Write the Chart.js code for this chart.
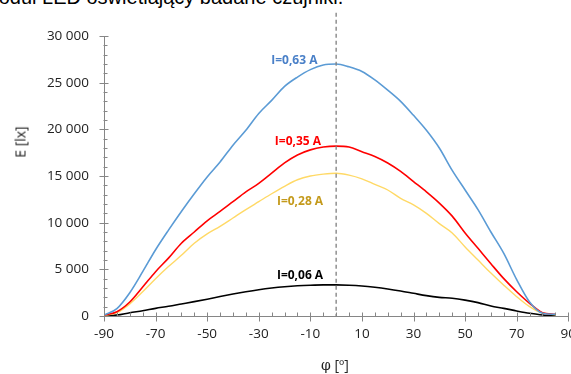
<!DOCTYPE html>
<html>
<head>
<meta charset="utf-8">
<script src="https://cdn.jsdelivr.net/npm/chart.js@4.4.0/dist/chart.umd.min.js"></script>
<style>
  html, body { margin: 0; padding: 0; background: #fff; overflow: hidden; width: 571px; height: 374px; }
  #wrap { position: absolute; left: 0; top: 0; width: 586px; height: 374px; }
  .top-text { position: absolute; left: -18px; top: -13px; font: 20px/20px "Liberation Sans", Arial, sans-serif; color: #000; white-space: nowrap; }
  .ytitle { position: absolute; left: 20px; top: 142px; transform: translate(-50%, -50%) rotate(-90deg); font: 14px "Open Sans", sans-serif; color: #222; white-space: nowrap; }
  .xtitle { position: absolute; left: 335px; top: 355px; transform: translateX(-50%); font: 14px "Open Sans", sans-serif; color: #222; white-space: nowrap; }
  .xtitle .phi { font-family: "DejaVu Serif", "Liberation Serif", serif; }
</style>
</head>
<body>
<div class="top-text">Moduł LED oświetlający badane czujniki.</div>
<div id="wrap"><canvas id="wykres" width="586" height="374"></canvas></div>
<div class="ytitle">E [lx]</div>
<div class="xtitle"><span class="phi">φ</span> [º]</div>
<script>
// kąt [stopnie]
const katy = [-90, -85, -80, -75, -70, -65, -60, -55, -50, -45, -40, -35, -30, -25, -20, -15, -10, -5,
  0, 5, 10, 15, 20, 25, 30, 35, 40, 45, 50, 55, 60, 65, 70, 75, 80, 85];

// natężenie oświetlenia E [lx]
const e063 = [100, 800, 2500, 4750, 7100, 9200, 11200, 13100, 14900, 16500, 18300, 19900, 21700, 23100, 24600, 25600, 26400, 26900,
  27000, 26700, 26200, 25300, 24200, 23000, 21500, 19900, 18000, 15600, 13500, 11400, 9000, 6700, 3900, 1500, 300, 180];
const e035 = [80, 460, 1500, 3100, 4750, 6200, 7800, 9000, 10200, 11200, 12250, 13300, 14200, 15300, 16400, 17250, 17800, 18100,
  18200, 18100, 17600, 17100, 16400, 15500, 14400, 13300, 12100, 10700, 8900, 7250, 5600, 4000, 2600, 1360, 360, 180];
const e028 = [60, 350, 1300, 2600, 4000, 5300, 6500, 7800, 8800, 9600, 10500, 11400, 12250, 13100, 13900, 14600, 15000, 15200,
  15300, 15100, 14700, 14100, 13500, 12600, 11900, 11000, 9900, 8900, 7400, 6000, 4600, 3300, 2070, 1000, 300, 140];
const e006 = [0, 100, 350, 570, 820, 1040, 1290, 1540, 1800, 2080, 2350, 2600, 2820, 3000, 3140, 3240, 3300, 3330,
  3330, 3300, 3220, 3080, 2900, 2680, 2430, 2180, 2000, 1900, 1700, 1430, 1070, 820, 540, 290, 110, 70];

const podpisy = ['I=0,63 A', 'I=0,35 A', 'I=0,28 A', 'I=0,06 A'];
const kolory = ['#5b9bd5', '#ff0000', '#ffd966', '#000000'];
const koloryPodpisow = ['#4a80c8', '#ff0000', '#c49a1c', '#000000'];
// położenie podpisów (kąt, E)
const podpisX = [-16.2, -14.8, -14.0, -14.0];
const podpisY = [27400, 18700, 12300, 4300];

const ticksX = [];
for (let k = -90; k <= 90; k += 5) ticksX.push(k);
const ticksY = [];
for (let v = 0; v <= 30000; v += 1000) ticksY.push(v);

function tysiace(v) {
  return String(v).replace(/\B(?=(\d{3})+(?!\d))/g, ' ');
}

const seria = (arr) => katy.map((k, i) => ({ x: k, y: arr[i] }));

const podpisyPlugin = {
  id: 'podpisy',
  afterDatasetsDraw(chart) {
    const { ctx, scales: { x, y } } = chart;
    // linia przerywana w 0
    ctx.save();
    ctx.strokeStyle = '#7f7f7f';
    ctx.lineWidth = 1.3;
    ctx.setLineDash([4, 3]);
    ctx.beginPath();
    ctx.moveTo(x.getPixelForValue(0), y.getPixelForValue(32500));
    ctx.lineTo(x.getPixelForValue(0), y.getPixelForValue(0));
    ctx.stroke();
    ctx.restore();

    ctx.save();
    ctx.font = 'bold 12px "Open Sans", sans-serif';
    ctx.textAlign = 'center';
    ctx.textBaseline = 'middle';
    podpisy.forEach((t, i) => {
      ctx.fillStyle = koloryPodpisow[i];
      ctx.fillText(t, x.getPixelForValue(podpisX[i]), y.getPixelForValue(podpisY[i]));
    });
    ctx.restore();
  },
  afterDraw(chart) {
    const { ctx, scales: { x, y } } = chart;
    ctx.save();
    ctx.strokeStyle = '#868686';
    ctx.lineWidth = 1;
    const y0 = Math.round(y.getPixelForValue(0)) + 0.5;
    x.ticks.forEach(t => {
      const px = Math.round(x.getPixelForValue(t.value)) + 0.5;
      const duzy = (t.value + 90) % 20 === 0;
      ctx.beginPath();
      ctx.moveTo(px, y0 - 4);
      ctx.lineTo(px, duzy ? y0 + 5 : y0);
      ctx.stroke();
    });
    const x0 = Math.round(x.getPixelForValue(-90)) + 0.5;
    y.ticks.forEach(t => {
      const py = Math.round(y.getPixelForValue(t.value)) + 0.5;
      const duzy = t.value % 5000 === 0;
      ctx.beginPath();
      ctx.moveTo(duzy ? x0 - 5 : x0 - 1, py);
      ctx.lineTo(duzy ? x0 + 4 : x0 + 3, py);
      ctx.stroke();
    });
    ctx.restore();
  }
};

new Chart(document.getElementById('wykres'), {
  type: 'line',
  data: {
    datasets: podpisy.map((p, i) => ({
      label: p,
      data: seria([e063, e035, e028, e006][i]),
      borderColor: kolory[i],
      borderWidth: i === 2 ? 1.4 : 1.6,
      pointRadius: 0,
      cubicInterpolationMode: 'monotone',
      fill: false
    }))
  },
  options: {
    responsive: false,
    animation: false,
    devicePixelRatio: 1,
    layout: { padding: { top: 36, right: 14, left: 0, bottom: 0 } },
    plugins: { legend: { display: false }, tooltip: { enabled: false } },
    scales: {
      x: {
        type: 'linear',
        min: -90,
        max: 90,
        afterBuildTicks: (s) => { s.ticks = ticksX.map(v => ({ value: v })); },
        afterFit: (s) => { s.height = 58; },
        grid: { display: false, drawTicks: false },
        border: { display: true, color: '#868686', width: 1 },
        ticks: {
          autoSkip: false,
          maxRotation: 0,
          padding: 10,
          color: '#222',
          font: { family: 'Open Sans', size: 13.5 },
          callback: (v) => ((v + 90) % 20 === 0 ? String(v) : '')
        }
      },
      y: {
        min: 0,
        max: 30000,
        afterBuildTicks: (s) => { s.ticks = ticksY.map(v => ({ value: v })); },
        afterFit: (s) => { s.width = 104; },
        grid: { display: false, drawTicks: false },
        border: { display: true, color: '#868686', width: 1 },
        ticks: {
          autoSkip: false,
          padding: 15,
          color: '#222',
          font: { family: 'Open Sans', size: 13.5 },
          callback: (v) => (v % 5000 === 0 ? tysiace(v) : '')
        }
      }
    }
  },
  plugins: [podpisyPlugin]
});
</script>
</body>
</html>
